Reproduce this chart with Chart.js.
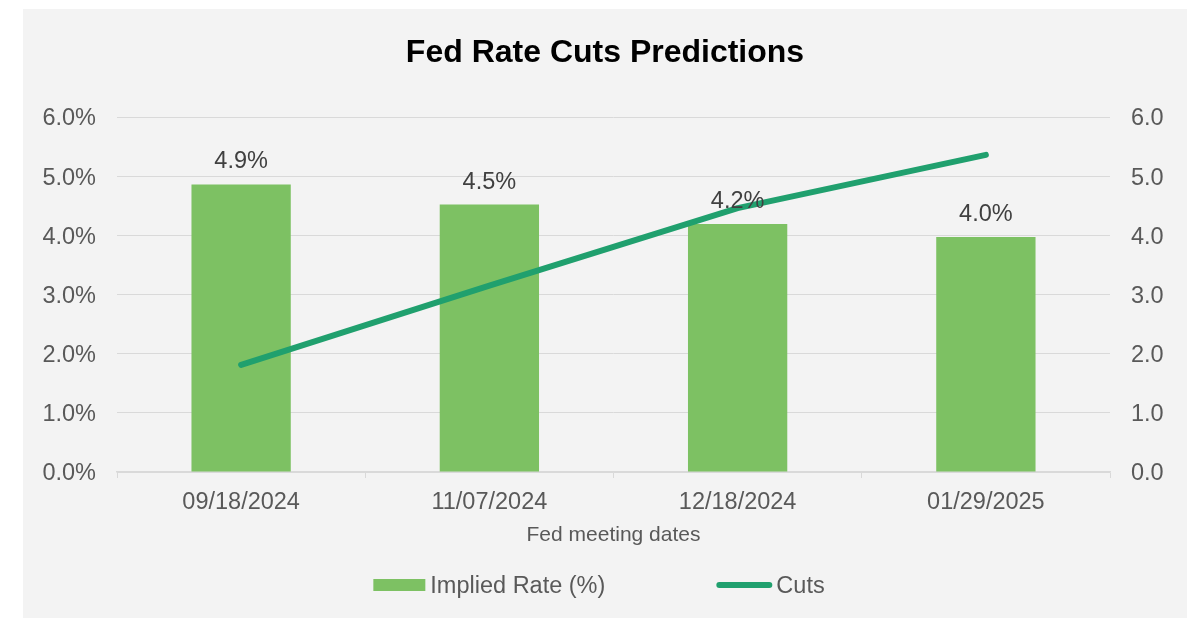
<!DOCTYPE html>
<html>
<head>
<meta charset="utf-8">
<script src="https://cdn.jsdelivr.net/npm/chart.js@4"></script>
<style>
  html, body { margin: 0; padding: 0; background: #ffffff; }
  #panel { position: absolute; left: 23px; top: 9px; width: 1164px; height: 609px; background: #f3f3f3; }
  canvas { display: block; }
</style>
</head>
<body>
<div id="panel"><canvas id="c" width="1164" height="609"></canvas></div>
<script>
const categories = ['09/18/2024', '11/07/2024', '12/18/2024', '01/29/2025'];
const impliedRate = [4.86, 4.52, 4.19, 3.97];
const cuts = [1.81, 3.15, 4.46, 5.36];
const leftTicks = [0, 1, 2, 3, 4, 5, 6];
const FONT = '"Liberation Sans", Arial, sans-serif';
const BAR_COLOR = '#7dc163';
const LINE_COLOR = '#20a06e';
const TEXT = '#595959';

const dataLabels = {
  id: 'dataLabels',
  afterDatasetsDraw(chart) {
    const ctx = chart.ctx;
    const meta = chart.getDatasetMeta(0);
    ctx.save();
    ctx.font = '23.5px ' + FONT;
    ctx.fillStyle = '#404040';
    ctx.textAlign = 'center';
    ctx.textBaseline = 'alphabetic';
    meta.data.forEach((bar, i) => {
      ctx.fillText(impliedRate[i].toFixed(1) + '%', bar.x, bar.y - 16);
    });
    ctx.restore();
  }
};

const customLegend = {
  id: 'customLegend',
  afterDraw(chart) {
    const ctx = chart.ctx;
    ctx.save();
    ctx.font = '23.5px ' + FONT;
    const t1 = chart.data.datasets[0].label, t2 = chart.data.datasets[1].label;
    const w1 = ctx.measureText(t1).width, w2 = ctx.measureText(t2).width;
    const total = 52 + 5 + w1 + 111 + 56 + 4 + w2;
    let x = 576 - total / 2;
    const y = 576;
    ctx.fillStyle = BAR_COLOR;
    ctx.fillRect(x, y - 6, 52, 12);
    x += 57;
    ctx.fillStyle = TEXT;
    ctx.textBaseline = 'middle';
    ctx.textAlign = 'left';
    ctx.fillText(t1, x, y + 2);
    x += w1 + 111;
    ctx.strokeStyle = LINE_COLOR;
    ctx.lineWidth = 6;
    ctx.lineCap = 'round';
    ctx.beginPath();
    ctx.moveTo(x + 3, y);
    ctx.lineTo(x + 53, y);
    ctx.stroke();
    x += 60;
    ctx.fillText(t2, x, y + 2);
    ctx.restore();
  }
};

new Chart(document.getElementById('c'), {
  data: {
    labels: categories,
    datasets: [
      {
        type: 'bar',
        label: 'Implied Rate (%)',
        data: impliedRate,
        backgroundColor: BAR_COLOR,
        yAxisID: 'y',
        barPercentage: 0.4,
        categoryPercentage: 1.0,
        order: 1
      },
      {
        type: 'line',
        label: 'Cuts',
        data: cuts,
        borderColor: LINE_COLOR,
        backgroundColor: LINE_COLOR,
        borderWidth: 6,
        borderCapStyle: 'round',
        borderJoinStyle: 'round',
        pointRadius: 0,
        tension: 0,
        yAxisID: 'y1',
        order: 0
      }
    ]
  },
  options: {
    responsive: false,
    animation: false,
    layout: { padding: { left: 0, right: 0, top: 0, bottom: 70.4 } },
    plugins: {
      legend: { display: false },
      tooltip: { enabled: false },
      title: {
        display: true,
        text: 'Fed Rate Cuts Predictions',
        color: '#000000',
        font: { family: FONT, size: 32, weight: 'bold', lineHeight: 1.2 },
        padding: { top: 24.8, bottom: 44.8 }
      }
    },
    scales: {
      x: {
        offset: true,
        grid: { offset: true, drawOnChartArea: false, drawTicks: true, tickLength: 6, color: '#d9d9d9', lineWidth: 1 },
        border: { display: true, color: '#d9d9d9', width: 1.5 },
        ticks: { color: TEXT, font: { family: FONT, size: 23.5 }, padding: 10, maxRotation: 0 },
        title: { display: true, text: 'Fed meeting dates', color: TEXT, font: { family: FONT, size: 21, lineHeight: 1.2 }, padding: { top: 0, bottom: 0 } },
        afterFit(scale) { scale.height = 75.6; }
      },
      y: {
        position: 'left',
        min: 0, max: 6,
        afterBuildTicks(scale) { scale.ticks = leftTicks.map(v => ({ value: v })); },
        grid: { color: '#d9d9d9', lineWidth: 1, drawTicks: false },
        border: { display: false },
        ticks: { color: TEXT, font: { family: FONT, size: 23.5 }, padding: 21, labelOffset: 2, callback: v => Number(v).toFixed(1) + '%' },
        afterFit(scale) { scale.width = 94; }
      },
      y1: {
        position: 'right',
        min: 0, max: 6,
        afterBuildTicks(scale) { scale.ticks = leftTicks.map(v => ({ value: v })); },
        grid: { display: false, drawOnChartArea: false, drawTicks: false },
        border: { display: false },
        ticks: { color: TEXT, font: { family: FONT, size: 23.5 }, padding: 21, labelOffset: 2, callback: v => Number(v).toFixed(1) },
        afterFit(scale) { scale.width = 77; }
      }
    }
  },
  plugins: [dataLabels, customLegend]
});
</script>
</body>
</html>
